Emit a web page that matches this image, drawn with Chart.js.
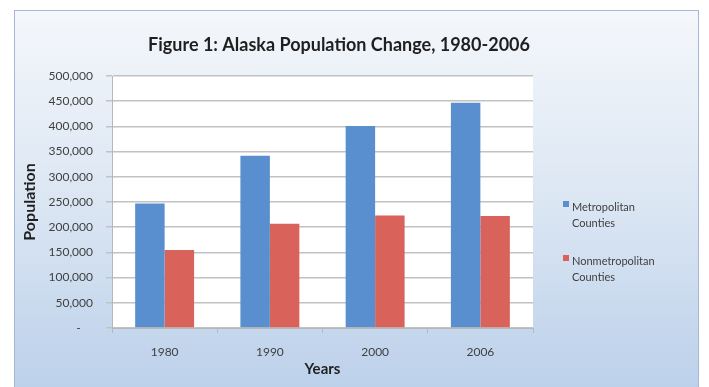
<!DOCTYPE html>
<html>
<head>
<meta charset="utf-8">
<title>Alaska Population Change</title>
<script src="https://cdn.jsdelivr.net/npm/chart.js@4.4.1/dist/chart.umd.min.js"></script>
<style>
    html, body { margin: 0; padding: 0; background: #ffffff; }
    body { width: 709px; height: 387px; position: relative; overflow: hidden; }
    #frame {
        position: absolute;
        left: 14px;
        top: 10px;
        width: 685px;
        height: 385px;
        box-sizing: border-box;
        border: 1px solid #a6b6d5;
        background: linear-gradient(to bottom, #f4f7fb 0%, #dbe6f3 50%, #bbd0ea 100%);
    }
    #popChart { position: absolute; left: 0; top: 0; }
</style>
</head>
<body>
<div id="frame"></div>
<canvas id="popChart" width="709" height="387"></canvas>
<script>
// Census years shown on the x axis
const years = ['1980', '1990', '2000', '2006'];

// Population by county type
const metroPop = [247000, 342000, 401000, 447000];
const nonmetroPop = [155000, 207000, 223000, 222000];

// Legend text, one entry per line
const metroLabel = ['Metropolitan', 'Counties'];
const nonmetroLabel = ['Nonmetropolitan', 'Counties'];

// Y axis range and tick step
const yMin = 0;
const yMax = 500000;
const yStep = 50000;

const chartTitle = 'Figure 1: Alaska Population Change, 1980-2006';

// White plot background
const plotBackground = {
    id: 'plotBackground',
    beforeDraw(chart) {
        const { ctx, chartArea } = chart;
        ctx.save();
        ctx.fillStyle = '#ffffff';
        ctx.fillRect(chartArea.left, chartArea.top, chartArea.right - chartArea.left, chartArea.bottom - chartArea.top);
        ctx.restore();
    }
};

// Title text, placed above the plot
const titleText = {
    id: 'titleText',
    afterDraw(chart) {
        const ctx = chart.ctx;
        ctx.save();
        ctx.font = 'bold 18px Lato';
        ctx.fillStyle = '#1f1f1f';
        ctx.textAlign = 'center';
        ctx.textBaseline = 'middle';
        ctx.fillText(chartTitle, 339, 45);
        ctx.restore();
    }
};

// Legend on the right with two-line labels
const sideLegend = {
    id: 'sideLegend',
    afterDraw(chart) {
        const ctx = chart.ctx;
        const x = 563;
        const tops = [204, 258];
        ctx.save();
        ctx.font = '11px Lato';
        ctx.textBaseline = 'middle';
        chart.data.datasets.forEach((ds, i) => {
            const y = tops[i];
            ctx.fillStyle = ds.backgroundColor;
            ctx.fillRect(x, y - 3, 6, 6);
            ctx.fillStyle = '#404040';
            ds.legendLines.forEach((line, j) => {
                ctx.fillText(line, x + 9, y + 3 + j * 16);
            });
        });
        ctx.restore();
    }
};

function formatTick(value) {
    if (value === 0) return '-    ';
    return value.toLocaleString('en-US');
}

const ctx = document.getElementById('popChart').getContext('2d');

new Chart(ctx, {
    type: 'bar',
    data: {
        labels: years,
        datasets: [{
            label: metroLabel.join(' '),
            legendLines: metroLabel,
            data: metroPop,
            backgroundColor: '#5a8fcf',
            borderWidth: 0
        }, {
            label: nonmetroLabel.join(' '),
            legendLines: nonmetroLabel,
            data: nonmetroPop,
            backgroundColor: '#d9625a',
            borderWidth: 0
        }]
    },
    options: {
        responsive: false,
        animation: false,
        events: [],
        barPercentage: 1,
        categoryPercentage: 0.56,
        layout: {
            padding: { left: 20, right: 176, top: 76, bottom: 9 }
        },
        plugins: {
            legend: { display: false },
            title: { display: false },
            tooltip: { enabled: false }
        },
        scales: {
            x: {
                afterFit(scale) { scale.height = 50; },
                grid: {
                    offset: true,
                    drawOnChartArea: false,
                    drawTicks: true,
                    tickLength: 5,
                    color: '#b8b8b8'
                },
                border: { color: '#b8b8b8', width: 1 },
                ticks: {
                    padding: 12,
                    color: '#404040',
                    font: { family: 'Lato', size: 12 }
                },
                title: {
                    display: true,
                    text: 'Years',
                    color: '#1f1f1f',
                    padding: 0,
                    font: { family: 'Lato', size: 15, weight: 'bold' }
                }
            },
            y: {
                min: yMin,
                max: yMax,
                afterFit(scale) { scale.width = 92; },
                grid: {
                    color: '#c2c2c2',
                    lineWidth: 1.5,
                    tickLength: 6
                },
                border: { color: '#b8b8b8', width: 1 },
                ticks: {
                    stepSize: yStep,
                    autoSkip: false,
                    padding: 13,
                    color: '#404040',
                    font: { family: 'Lato', size: 12 },
                    callback: formatTick
                },
                title: {
                    display: true,
                    text: 'Population',
                    color: '#1f1f1f',
                    padding: { top: 0, bottom: 0 },
                    font: { family: 'Lato', size: 16, weight: 'bold' }
                }
            }
        }
    },
    plugins: [plotBackground, titleText, sideLegend]
});
</script>
</body>
</html>
